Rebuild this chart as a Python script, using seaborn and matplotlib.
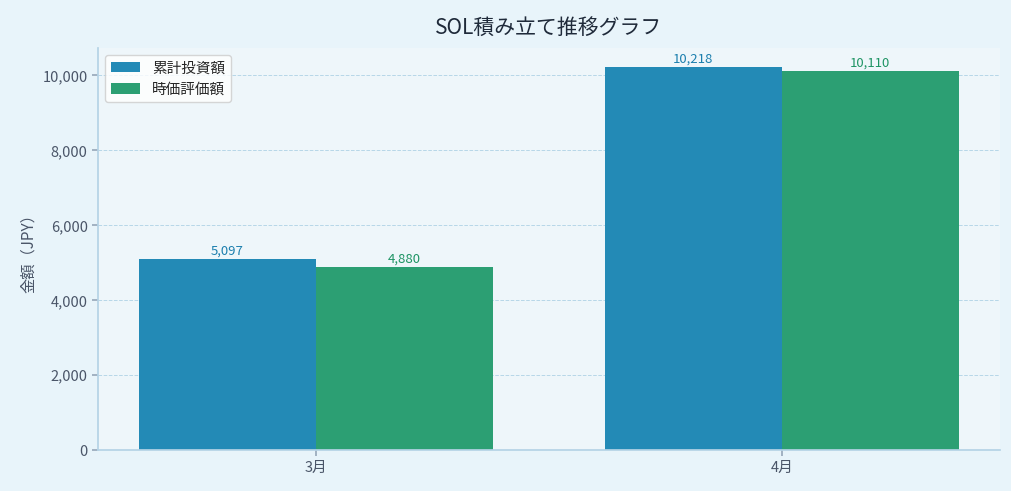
import pandas as pd
import matplotlib
matplotlib.use("Agg")
import matplotlib.pyplot as plt
import seaborn as sns

months = ["3月", "4月"]
invested = [5097, 10218]
market_value = [4880, 10110]
series_names = ["累計投資額", "時価評価額"]

df = pd.DataFrame({
    "month": months * 2,
    "amount": invested + market_value,
    "series": [series_names[0]] * len(months) + [series_names[1]] * len(months),
})

sns.set_theme(style="white")
plt.rcParams["font.family"] = ["Noto Sans CJK JP", "DejaVu Sans"]

bar_colors = ["#238ab6", "#2c9f73"]
label_colors = ["#1c7fae", "#1e9464"]

fig, ax = plt.subplots(figsize=(10.11, 4.91), dpi=100)
fig.patch.set_facecolor("#e8f4fa")
ax.set_facecolor("#eef6fa")

sns.barplot(data=df, x="month", y="amount", hue="series", palette=bar_colors,
            width=0.76, gap=0, saturation=1, linewidth=0, edgecolor="none",
            ax=ax, zorder=2)

# ラベル
for cont, col in zip(ax.containers, label_colors):
    ax.bar_label(cont, labels=[f"{int(v.get_height()):,}" for v in cont],
                 color=col, fontsize=9.5, padding=1)

ax.set_xlim(-0.468, 1.468)
ax.set_title("SOL積み立て推移グラフ", fontsize=15, color="#1f2a3a", pad=10)
ax.set_xlabel("")
ax.set_ylabel("金額（JPY）", fontsize=11, color="#4a5568")
ax.yaxis.set_major_formatter(matplotlib.ticker.FuncFormatter(lambda v, p: f"{int(v):,}"))
ax.tick_params(axis="both", labelsize=10.5, colors="#4a5568", length=4, color="#9ab")
ax.tick_params(axis="both", bottom=True, left=True)
ax.grid(axis="y", linestyle="--", color="#a9cfe3", linewidth=0.7, alpha=0.8, zorder=0)
ax.set_axisbelow(True)
for s in ["top", "right"]:
    ax.spines[s].set_visible(False)
for s in ["left", "bottom"]:
    ax.spines[s].set_color("#b5d3e6")

leg = ax.legend(loc="upper left", fontsize=10.5, frameon=True, title=None)
leg.get_frame().set_facecolor("white")
leg.get_frame().set_edgecolor("#cccccc")

fig.subplots_adjust(left=0.097, right=0.989, top=0.902, bottom=0.083)
fig.savefig("out.png", dpi=100, facecolor=fig.get_facecolor())
